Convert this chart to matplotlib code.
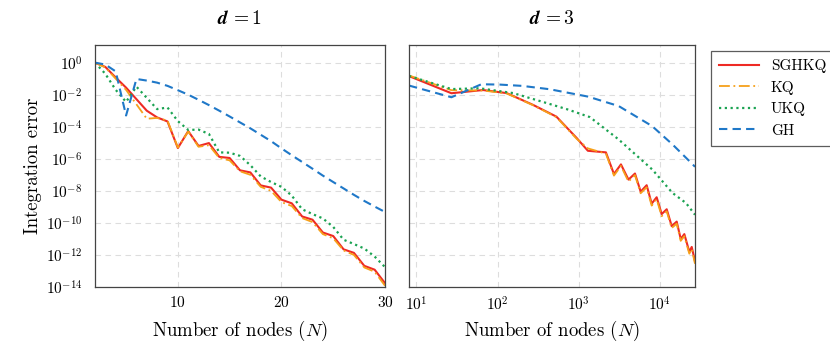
import numpy as np
import matplotlib
matplotlib.use("Agg")
import matplotlib.pyplot as plt
from matplotlib.ticker import FixedLocator, NullLocator

plt.rcParams["font.family"] = ["cmr10", "DejaVu Serif"]
plt.rcParams["mathtext.fontset"] = "cm"
plt.rcParams["axes.formatter.use_mathtext"] = True

# ---- d = 1 : N = 2..30, log10 of the integration error ----
n_d1 = list(range(2, 31))
sghkq_d1 = [0, -0.27, -0.93, -1.56, -2.28, -3.0, -3.42, -3.67, -5.33, -4.27, -5.2, -5.02, -5.88, -5.95,
            -6.72, -6.85, -7.66, -7.8, -8.55, -8.78, -9.6, -9.8, -10.6, -10.82, -11.65, -11.87, -12.68,
            -12.92, -13.76]
kq_d1 = [0, -0.3, -1.0, -1.7, -2.6, -3.5, -3.45, -3.62, -5.3, -4.3, -5.25, -5.15, -5.95, -6.1, -6.78,
         -7.0, -7.75, -8.0, -8.7, -8.95, -9.7, -9.95, -10.7, -10.96, -11.72, -12.0, -12.78, -13.05, -13.92]
ukq_d1 = [0, -0.7, -1.7, -2.45, -1.5, -2.2, -2.9, -2.8, -3.65, -4.2, -4.18, -4.45, -5.6, -5.62, -5.82,
          -6.4, -7.1, -7.45, -7.75, -8.3, -9.15, -9.45, -9.72, -10.25, -11.05, -11.32, -11.6, -12.1, -12.76]
gh_d1 = [0, -0.12, -0.55, -3.3, -1.02, -1.12, -1.25, -1.45, -1.72, -2.0, -2.32, -2.65, -3.0, -3.36,
         -3.73, -4.1, -4.5, -4.9, -5.35, -5.78, -6.2, -6.62, -7.05, -7.45, -7.85, -8.25, -8.63, -8.98, -9.32]

# ---- d = 3 : node counts and log10 errors ----
n_sg_d3 = [8.1, 27, 66, 129, 274, 530, 940, 1294, 2158, 2710, 3306, 4093, 4920, 5780, 6855, 7900, 9100,
           10500, 12100, 13940, 16070, 18000, 19950, 22970, 24600, 27000]
sghkq_d3 = [-0.84, -1.91, -1.71, -1.9, -2.64, -3.37, -4.7, -5.5, -5.6, -6.95, -6.35, -7.3, -6.92, -8.05,
            -7.65, -8.8, -8.4, -9.45, -9.15, -10.2, -9.92, -11.0, -10.7, -11.8, -11.5, -12.4]
kq_d3 = [-0.8, -1.72, -1.74, -1.92, -2.66, -3.4, -4.75, -5.35, -5.68, -7.05, -6.45, -7.42, -7.02, -8.15,
         -7.78, -8.92, -8.52, -9.58, -9.28, -10.32, -10.05, -11.12, -10.83, -11.92, -11.62, -12.55]
n_ukq_d3 = [8.1, 27, 60, 155, 400, 708, 1370, 3090, 8040, 14250, 20900, 27000]
ukq_d3 = [-0.83, -1.65, -1.6, -1.9, -2.52, -2.9, -3.4, -4.79, -6.67, -8.13, -8.76, -9.49]
n_gh_d3 = [8.1, 27, 63, 106, 200, 437, 1300, 3100, 8000, 14300, 25300, 27000]
gh_d3 = [-1.43, -2.16, -1.35, -1.37, -1.45, -1.66, -2.12, -2.71, -3.96, -5.11, -6.35, -6.5]

labels = ["SGHKQ", "KQ", "UKQ", "GH"]
colors = ["#EE2A24", "#F6A01A", "#1BA352", "#1F78C8"]
styles = ["-", (0, (6, 2, 1, 2)), (0, (1, 1.6)), (0, (4, 2.5))]
widths = [1.5, 1.3, 1.6, 1.5]

fig = plt.figure(figsize=(8.3, 3.5), dpi=100)
ax1 = fig.add_axes([95 / 830, 63 / 350, 290 / 830, 242 / 350])
ax2 = fig.add_axes([409 / 830, 63 / 350, 286 / 830, 242 / 350])

series1 = [(n_d1, sghkq_d1), (n_d1, kq_d1), (n_d1, ukq_d1), (n_d1, gh_d1)]
series3 = [(n_sg_d3, sghkq_d3), (n_sg_d3, kq_d3), (n_ukq_d3, ukq_d3), (n_gh_d3, gh_d3)]

for ax, series in [(ax1, series1), (ax2, series3)]:
    for (x, y), lab, c, ls, lw in zip(series, labels, colors, styles, widths):
        ax.plot(x, 10.0 ** np.array(y), color=c, linestyle=ls, linewidth=lw, label=lab)
    ax.set_yscale("log")
    ax.set_ylim(1e-14, 10 ** 1.1)
    ax.yaxis.set_major_locator(FixedLocator([10.0 ** k for k in range(-14, 1, 2)]))
    ax.yaxis.set_minor_locator(NullLocator())
    ax.grid(True, color="#dddddd", linestyle=(0, (5, 4)), linewidth=0.8)
    ax.set_axisbelow(True)
    for s in ax.spines.values():
        s.set_color("#444444")
        s.set_linewidth(0.9)
    ax.tick_params(axis="x", length=0, labelsize=11, pad=6)
    ax.tick_params(axis="y", length=0, labelsize=11, pad=9)

ax1.set_xlim(2, 30)
ax1.set_xticks([10, 20, 30])
ax1.set_ylabel("Integration error", fontsize=13.5, labelpad=3)
ax1.set_xlabel(r"Number of nodes $(N)$", fontsize=13.5, labelpad=6)

ax2.set_xscale("log")
ax2.set_xlim(8.1, 27000)
ax2.xaxis.set_major_locator(FixedLocator([10, 100, 1000, 10000]))
ax2.xaxis.set_minor_locator(NullLocator())
ax2.set_yticklabels([])
ax2.set_xlabel(r"Number of nodes $(N)$", fontsize=13.5, labelpad=4)

t1 = ax1.set_title(r"$\mathbfit{d}\mathbf{\,=1}$", fontsize=14, pad=15)
t2 = ax2.set_title(r"$\mathbfit{d}\mathbf{\,=3}$", fontsize=14, pad=15)
try:
    fig.canvas.draw()
except Exception:
    t1.set_text(r"$\mathbf{d=1}$")
    t2.set_text(r"$\mathbf{d=3}$")

leg = ax1.legend(loc="upper left", bbox_to_anchor=(703 / 830, 1 - 43 / 350),
                 bbox_transform=fig.transFigure, fontsize=11, handlelength=2.6,
                 frameon=True, fancybox=False, edgecolor="#333333", borderpad=0.55,
                 labelspacing=0.5, handletextpad=0.8)
leg.get_frame().set_linewidth(0.9)

fig.savefig("out.png", dpi=100)
